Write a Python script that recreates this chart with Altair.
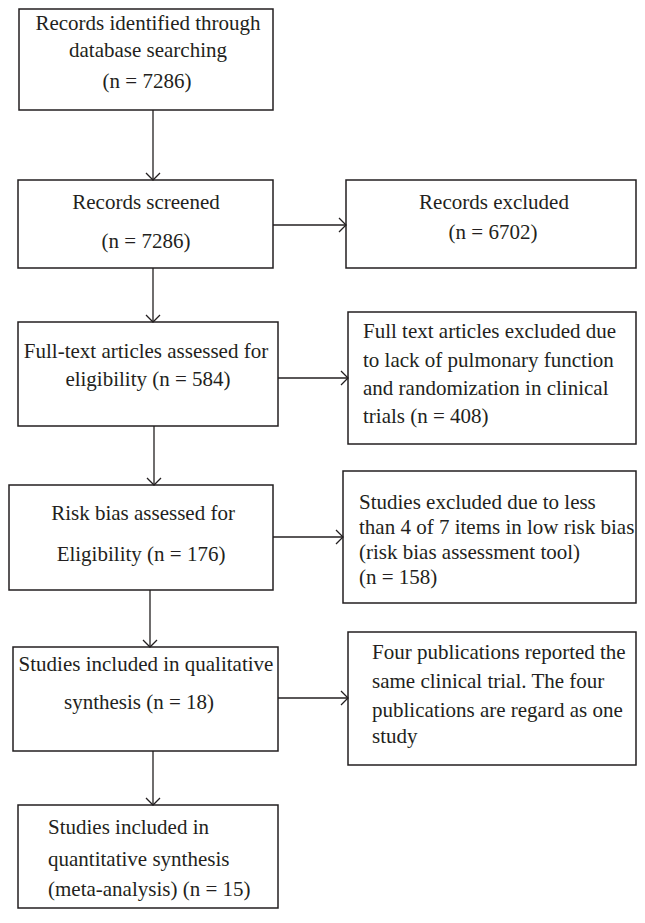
import altair as alt
import pandas as pd

# ---- data (reference pixel coordinates of the flow diagram) ----
box_x1 = [19, 18, 346, 18, 348, 9, 343, 13, 348, 18]
box_x2 = [273, 273, 636, 278, 636, 273, 636, 278, 636, 278]
box_y1 = [9, 180, 180, 322, 312, 485, 471, 647, 632, 805]
box_y2 = [110, 268, 268, 426, 444, 590, 603, 751, 765, 908]

v_x = [153, 153, 154, 150, 153]
v_y1 = [110, 268, 426, 590, 751]
v_y2 = [180, 322, 485, 647, 805]

h_y = [225, 378, 537, 698]
h_x1 = [273, 278, 273, 278]
h_x2 = [346, 348, 343, 348]

center_text = [
    "Records identified through", "database searching", "(n = 7286)",
    "Records screened", "(n = 7286)",
    "Records excluded", "(n = 6702)",
    "Full-text articles assessed for", "eligibility (n = 584)",
    "Risk bias assessed for", "Eligibility (n = 176)",
    "Studies included in qualitative", "synthesis (n = 18)",
]
center_x = [148, 148, 147, 146, 146, 494, 493, 146, 148, 143, 141, 146, 139]
center_y = [24, 51, 82, 203, 242, 203, 233, 352, 380, 514, 555, 665, 703]

left_text = [
    "Full text articles excluded due", "to lack of pulmonary function",
    "and randomization in clinical", "trials (n = 408)",
    "Studies excluded due to less", "than 4 of 7 items in low risk bias",
    "(risk bias assessment tool)", "(n = 158)",
    "Four publications reported the", "same clinical trial. The four",
    "publications are regard as one", "study",
    "Studies included in", "quantitative synthesis", "(meta-analysis) (n = 15)",
]
left_x = [363, 363, 363, 363, 359, 359, 359, 359, 372, 372, 372, 372, 48, 48, 48]
left_y = [332, 361, 389, 417, 503, 528, 553, 578, 653, 682, 711, 737, 828, 860, 890]

INK = "#231f20"
FONT = "Liberation Serif, Times New Roman, serif"
FS = 21

# chart area is placed at page offset (8, 8); domains are page pixels
X0, Y0 = 8, 8
W, H = 629, 901
xs = alt.Scale(domain=[X0, X0 + W], nice=False, zero=False)
ys = alt.Scale(domain=[Y0, Y0 + H], nice=False, zero=False, reverse=True)

boxes = pd.DataFrame({"x": box_x1, "x2": box_x2, "y": box_y1, "y2": box_y2})
vdf = pd.DataFrame({"x": v_x, "y": v_y1, "y2": v_y2})
hdf = pd.DataFrame({"y": h_y, "x": h_x1, "x2": h_x2})
cdf = pd.DataFrame({"t": center_text, "x": center_x, "y": center_y})
ldf = pd.DataFrame({"t": left_text, "x": left_x, "y": left_y})

box_layer = alt.Chart(boxes).mark_rect(fill="white", stroke=INK, strokeWidth=1.5).encode(
    x=alt.X("x:Q", scale=xs, axis=None), x2="x2:Q",
    y=alt.Y("y:Q", scale=ys, axis=None), y2="y2:Q",
)

v_rule = alt.Chart(vdf).mark_rule(color=INK, strokeWidth=1.3).encode(
    x=alt.X("x:Q", scale=xs, axis=None),
    y=alt.Y("y:Q", scale=ys, axis=None), y2="y2:Q",
)
v_head = alt.Chart(vdf).mark_point(
    shape="M-1,-1L0,0L1,-1", size=196, filled=False, stroke=INK, strokeWidth=1.3, opacity=1
).encode(
    x=alt.X("x:Q", scale=xs, axis=None),
    y=alt.Y("y2:Q", scale=ys, axis=None),
)

h_rule = alt.Chart(hdf).mark_rule(color=INK, strokeWidth=1.3).encode(
    x=alt.X("x:Q", scale=xs, axis=None), x2="x2:Q",
    y=alt.Y("y:Q", scale=ys, axis=None),
)
h_head = alt.Chart(hdf).mark_point(
    shape="M-1,-1L0,0L-1,1", size=196, filled=False, stroke=INK, strokeWidth=1.3, opacity=1
).encode(
    x=alt.X("x2:Q", scale=xs, axis=None),
    y=alt.Y("y:Q", scale=ys, axis=None),
)

c_text = alt.Chart(cdf).mark_text(
    align="center", baseline="middle", font=FONT, fontSize=FS, color=INK
).encode(
    x=alt.X("x:Q", scale=xs, axis=None),
    y=alt.Y("y:Q", scale=ys, axis=None),
    text="t:N",
)
l_text = alt.Chart(ldf).mark_text(
    align="left", baseline="middle", font=FONT, fontSize=FS, color=INK
).encode(
    x=alt.X("x:Q", scale=xs, axis=None),
    y=alt.Y("y:Q", scale=ys, axis=None),
    text="t:N",
)

chart = alt.layer(box_layer, v_rule, h_rule, v_head, h_head, c_text, l_text).properties(
    width=W, height=H, padding=0,
    autosize=alt.AutoSizeParams(type="none"),
).configure_view(stroke=None)

chart.save("out.html", embed_options={"renderer": "svg", "actions": False})
